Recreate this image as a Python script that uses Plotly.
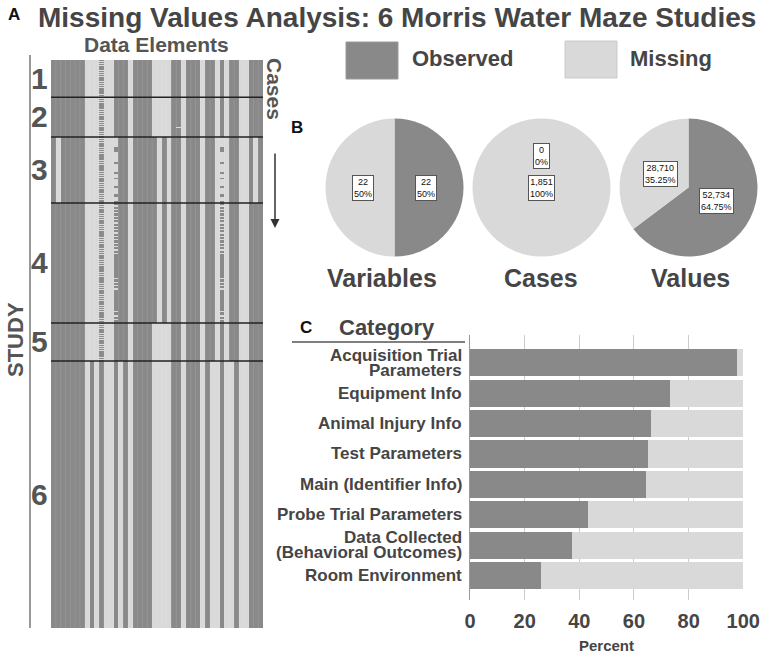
import plotly.graph_objects as go
import numpy as np

W, H = 777, 662

# ---------------- data ----------------
title_text = "Missing Values Analysis: 6 Morris Water Maze Studies"
status_labels = ["Observed", "Missing"]

study_names = ["1", "2", "3", "4", "5", "6"]
study_cases = [121, 130, 215, 391, 124, 870]
n_elements = 44

# per-study pattern over the 44 data elements
# D = observed, L = missing, S = interleaved observed/missing,
# T = missing with observed ticks, U = observed with missing dashes
pattern_s1 = "".join(["DDDDDDD", "LLL", "S", "LL", "DDD", "L", "DDDD", "LLLL", "DD", "L",
                      "DDD", "L", "DD", "L", "D", "L", "DD", "LL", "DDD"])
pattern_s3 = "".join(["D", "L", "DDDDD", "LLL", "S", "LL", "T", "DD", "L", "DDDDD", "L", "D", "L",
                      "DD", "L", "DDD", "L", "DD", "L", "T", "L", "DD", "LL", "D", "L", "D"])
pattern_s4 = "".join(["DDDDDDD", "LLL", "S", "LL", "U", "DD", "L", "DDDDD", "L", "D", "L", "DD",
                      "L", "DDD", "L", "DD", "L", "U", "L", "DD", "LL", "DDD"])
pattern_s6 = "".join(["DDDDDDD", "L", "D", "L", "D", "LL", "D", "L", "D", "L", "DDDD", "LLLL",
                      "DD", "L", "DDD", "L", "D", "LL", "D", "LL", "D", "LL", "DDD"])
study_patterns = [pattern_s1, pattern_s1, pattern_s3, pattern_s4, pattern_s1, pattern_s6]

# observed ticks (case offsets within study 3) in mostly-missing columns
ticks_s3 = [(31, 47), (83, 87), (114, 118), (133, 137), (161, 165), (187, 196), (210, 213)]
# missing dashes (case offsets within study 4) in mostly-observed columns
dashes_s4 = [(8, 11), (19, 22), (30, 33), (41, 44), (52, 55), (63, 66), (74, 77), (85, 88),
             (96, 99), (107, 110), (118, 121), (129, 132), (140, 143), (151, 154), (162, 165),
             (245, 248), (256, 259), (267, 270), (278, 281), (352, 355), (366, 369), (378, 381)]
# 'S' columns: runs of observed cases followed by runs of missing cases
interleave_observed_run = 4
interleave_missing_run = 2
isolated_missing = [(1, 26, 96, 100)]  # study index, element, case range

# pie summaries
pie_titles = ["Variables", "Cases", "Values"]
pie_observed = [22, 0, 52734]
pie_missing = [22, 1851, 28710]
pie_obs_pct = ["50%", "0%", "64.75%"]
pie_mis_pct = ["50%", "100%", "35.25%"]

# category bars
categories = ["Acquisition Trial<br>Parameters", "Equipment Info", "Animal Injury Info",
              "Test Parameters", "Main (Identifier Info)", "Probe Trial Parameters",
              "Data Collected<br>(Behavioral Outcomes)", "Room Environment"]
observed_pct = [97.6, 73.1, 66.4, 65.3, 64.3, 43.0, 37.2, 25.8]
x_ticks = [0, 20, 40, 60, 80, 100]

# ---------------- styling ----------------
DARK = "#898989"
LIGHT = "#d9d9d9"
TXT = "#454545"
FONT = "Liberation Sans, Arial, sans-serif"


def px(x):
    return x / W


def py(y):
    return 1 - y / H


# ---------------- build matrix ----------------
cycle = interleave_observed_run + interleave_missing_run
blocks = []
for si, (n, pat) in enumerate(zip(study_cases, study_patterns)):
    blk = np.zeros((n, n_elements))
    rows = np.arange(n)
    for j, ch in enumerate(pat):
        if ch == "D":
            col = np.ones(n)
        elif ch == "L":
            col = np.zeros(n)
        elif ch == "S":
            col = ((rows % cycle) < interleave_observed_run).astype(float)
        elif ch == "T":
            col = np.zeros(n)
            for a, b in ticks_s3:
                col[a:b + 1] = 1
        else:
            col = np.ones(n)
            for a, b in dashes_s4:
                col[a:b + 1] = 0
        blk[:, j] = col
    blocks.append(blk)
for si, j, a, b in isolated_missing:
    blocks[si][a:b + 1, j] = 0
z = np.vstack(blocks)
total_cases = z.shape[0]

fig = go.Figure()

fig.add_trace(go.Heatmap(
    z=z, x=list(range(n_elements)), y=list(range(1, total_cases + 1)),
    colorscale=[[0, LIGHT], [1, DARK]], zmin=0, zmax=1, showscale=False,
    hoverinfo="skip", xaxis="x", yaxis="y"))

# bars
missing_pct = [round(100 - v, 1) for v in observed_pct]
fig.add_trace(go.Bar(y=categories, x=observed_pct, orientation="h", marker=dict(color=DARK, line=dict(width=0)),
                     name=status_labels[0], xaxis="x2", yaxis="y2", showlegend=False, hoverinfo="skip"))
fig.add_trace(go.Bar(y=categories, x=missing_pct, orientation="h", marker=dict(color=LIGHT, line=dict(width=0)),
                     name=status_labels[1], xaxis="x2", yaxis="y2", showlegend=False, hoverinfo="skip"))

annotations = []

# category labels (tight multi-line)
LINE_GAP = 15
for cat in categories:
    lines = cat.split("<br>")
    k = len(lines)
    for li, line in enumerate(lines):
        shift = (k - 1) * LINE_GAP / 2 - li * LINE_GAP
        annotations.append(dict(x=px(464), y=cat, xref="paper", yref="y2", yshift=shift,
                                showarrow=False, text=f"<b>{line}</b>",
                                font=dict(size=17, color=TXT, family=FONT),
                                xanchor="right", yanchor="middle"))

# pies
pie_cx = [394.5, 541.5, 688.5]
pie_cy = 187.5
pie_r = 69
for i in range(3):
    cx = pie_cx[i]
    fig.add_trace(go.Pie(
        values=[pie_observed[i], pie_missing[i]], labels=status_labels, sort=False,
        direction="clockwise", rotation=0, textinfo="none", hoverinfo="skip",
        marker=dict(colors=[DARK, LIGHT], line=dict(width=0)), showlegend=False,
        domain=dict(x=[px(cx - pie_r), px(cx + pie_r)], y=[py(pie_cy + pie_r), py(pie_cy - pie_r)])))
    tot = pie_observed[i] + pie_missing[i]
    f = pie_observed[i] / tot
    segs = [(pie_observed[i], pie_obs_pct[i], 0, f), (pie_missing[i], pie_mis_pct[i], f, 1)]
    for val, pct, a0, a1 in segs:
        if a1 - a0 >= 0.999:
            lx, ly = cx, pie_cy
        else:
            th = np.deg2rad((a0 + a1) / 2 * 360)
            rr = 0.45 * pie_r
            lx, ly = cx + rr * np.sin(th), pie_cy - rr * np.cos(th)
        annotations.append(dict(
            x=px(lx), y=py(ly), xref="paper", yref="paper", showarrow=False,
            text=f"{val:,}<br>{pct}", font=dict(size=9, color="#111", family=FONT),
            bgcolor="white", bordercolor="#555", borderwidth=1, borderpad=1,
            xanchor="center", yanchor="middle"))

pie_title_x = [382, 541, 690]
for i in range(3):
    annotations.append(dict(x=px(pie_title_x[i]), y=py(278), xref="paper", yref="paper", showarrow=False,
                            text=f"<b>{pie_titles[i]}</b>", font=dict(size=25, color=TXT, family=FONT),
                            xanchor="center", yanchor="middle"))

# study labels
starts = np.cumsum([0] + study_cases[:-1])
for name, s, n in zip(study_names, starts, study_cases):
    annotations.append(dict(x=px(39), y=s + n / 2, xref="paper", yref="y", showarrow=False,
                            text=f"<b>{name}</b>", font=dict(size=30, color="#555", family=FONT),
                            xanchor="center", yanchor="middle"))

shapes = []
# faint separators between data-element columns
for j in range(1, n_elements):
    shapes.append(dict(type="line", xref="x", yref="y", x0=j - 0.5, x1=j - 0.5, y0=0.5, y1=total_cases + 0.5,
                       line=dict(color="rgba(255,255,255,0.10)", width=1)))
for b in np.cumsum(study_cases)[:-1]:
    shapes.append(dict(type="line", xref="x", yref="y", x0=-0.5, x1=n_elements - 0.5, y0=b + 0.5, y1=b + 0.5,
                       line=dict(color="#222", width=1.5)))


def txt(x, y, t, size, color=TXT, angle=0, xanchor="center"):
    annotations.append(dict(x=px(x), y=py(y), xref="paper", yref="paper", showarrow=False, text=t,
                            textangle=angle, font=dict(size=size, color=color, family=FONT),
                            xanchor=xanchor, yanchor="middle"))


txt(14, 14, "<b>A</b>", 17, "#111")
txt(397, 18, f"<b>{title_text}</b>", 28)
txt(156, 44, "<b>Data Elements</b>", 21, "#555")
txt(15, 340, "<b>STUDY</b>", 22, "#555", angle=-90)
txt(275, 89, "<b>Cases</b>", 21, "#555", angle=90)
txt(297, 127, "<b>B</b>", 17, "#111")
txt(306, 327, "<b>C</b>", 17, "#111")
txt(387, 327, "<b>Category</b>", 22, TXT)
txt(410, 59, f"<b>{status_labels[0]}</b>", 22, TXT, xanchor="left")
txt(628, 59, f"<b>{status_labels[1]}</b>", 22, TXT, xanchor="left")
txt(606.5, 645, "<b>Percent</b>", 15, TXT)

annotations.append(dict(x=px(275), y=py(228), xref="paper", yref="paper", ax=0, ay=-76,
                        axref="pixel", ayref="pixel", showarrow=True, text="", arrowhead=2,
                        arrowsize=1.2, arrowwidth=1.5, arrowcolor="#333"))

shapes += [
    dict(type="line", xref="paper", yref="paper", x0=px(30), x1=px(30), y0=py(55), y1=py(628),
         line=dict(color="#777", width=1.5)),
    dict(type="line", xref="paper", yref="paper", x0=px(292), x1=px(465), y0=py(342), y1=py(342),
         line=dict(color="#555", width=1.5)),
    dict(type="rect", xref="paper", yref="paper", x0=px(346), x1=px(398), y0=py(79), y1=py(42),
         fillcolor=DARK, line=dict(color="#9a9a9a", width=1)),
    dict(type="rect", xref="paper", yref="paper", x0=px(565), x1=px(617), y0=py(78), y1=py(41),
         fillcolor=LIGHT, line=dict(color="#cacaca", width=1)),
]

fig.update_layout(
    width=W, height=H, margin=dict(l=0, r=0, t=0, b=0, pad=0, autoexpand=False),
    paper_bgcolor="white", plot_bgcolor="white",
    font=dict(family=FONT, color=TXT),
    barmode="stack", bargap=0.11, showlegend=False,
    xaxis=dict(domain=[px(51), px(263)], range=[-0.5, n_elements - 0.5], visible=False, anchor="y",
               automargin=False),
    yaxis=dict(domain=[py(628), py(60)], range=[total_cases + 0.5, 0.5], visible=False, anchor="x",
               automargin=False),
    xaxis2=dict(domain=[px(470), px(743.3)], range=[0, 100], anchor="y2", tickvals=x_ticks,
                showgrid=True, gridcolor="#cccccc", gridwidth=1, zeroline=False, showline=False,
                ticks="outside", ticklen=3, tickcolor="rgba(0,0,0,0)", automargin=False,
                tickfont=dict(size=20, color=TXT, family=FONT, weight="bold")),
    yaxis2=dict(domain=[py(600), py(335)], range=[7.81, -0.92], anchor="x2", type="category",
                showline=True, linecolor="#999", linewidth=1, showgrid=False, showticklabels=False,
                ticks="", automargin=False),
    annotations=annotations, shapes=shapes,
)

fig.write_html("out.html", config={"displayModeBar": False},
               post_script="document.body.style.margin='0';document.body.style.overflow='hidden';")
